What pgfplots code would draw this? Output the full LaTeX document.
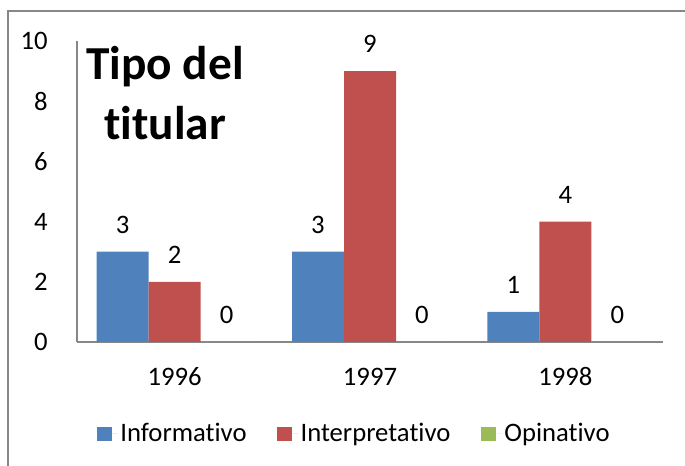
\documentclass[border=0pt]{standalone}
\usepackage{fontspec}
\setmainfont{Carlito}[Ligatures=NoCommon]
\usepackage{pgfplots}
\pgfplotsset{compat=1.18}
\definecolor{barBlue}{HTML}{4F81BD}
\definecolor{barRed}{HTML}{C0504D}
\definecolor{barGreen}{HTML}{9BBB59}
\definecolor{frameGray}{HTML}{878787}

\begin{document}
\fontsize{20}{24}\selectfont
\begin{tikzpicture}
\useasboundingbox (0,0) rectangle (513.75pt,349.5pt);
% chart frame (only top and left edges fall inside the picture)
\draw[frameGray, line width=1.5pt] (6pt,0) -- (6pt,341.25pt) -- (513.75pt,341.25pt);

\begin{axis}[
  at={(57.75pt,93pt)}, anchor=south west,
  scale only axis,
  width=439.5pt, height=225.75pt,
  ybar=0pt, bar width=39pt,
  xmin=0.5, xmax=3.5,
  ymin=0, ymax=10,
  xtick={1,2,3},
  xticklabels={1996,1997,1998},
  ytick={0,2,4,6,8,10},
  enlargelimits=false,
  axis lines=left,
  axis line style={-, draw=frameGray, line width=1.2pt},
  major tick length=0pt,
  /pgf/number format/assume math mode=true,
  every tick label/.append style={font=\fontsize{20}{24}\selectfont},
  yticklabel style={xshift=-15.1pt},
  xticklabel style={anchor=north, yshift=-12.8pt, text height=13pt, text depth=0pt},
  nodes near coords,
  every node near coord/.append style={yshift=6.8pt, black, font=\fontsize{20}{24}\selectfont},
  legend columns=3,
  legend style={at={(0.4735,-0.3056)}, anchor=center, draw=none, fill=none,
    font=\fontsize{20}{24}\selectfont,
    /tikz/every even column/.append style={column sep=20.75pt}},
  legend image code/.code={\fill[#1] (0pt,-5.6pt) rectangle (11.25pt,5.6pt);
    \path (0pt,0pt) -- (15.75pt,0pt);},
]
\addplot[fill=barBlue, draw=none] coordinates {(1,3) (2,3) (3,1)};
\addlegendentry{Informativo}
\addplot[fill=barRed, draw=none] coordinates {(1,2) (2,9) (3,4)};
\addlegendentry{Interpretativo}
\addplot[fill=barGreen, draw=none] coordinates {(1,0) (2,0) (3,0)};
\addlegendentry{Opinativo}
\end{axis}

\node[anchor=base, font=\fontsize{35.5}{40}\selectfont\bfseries] at (123.75pt,289.5pt) {Tipo del};
\node[anchor=base, font=\fontsize{35.5}{40}\selectfont\bfseries] at (123.75pt,244.5pt) {titular};
\end{tikzpicture}
\end{document}
